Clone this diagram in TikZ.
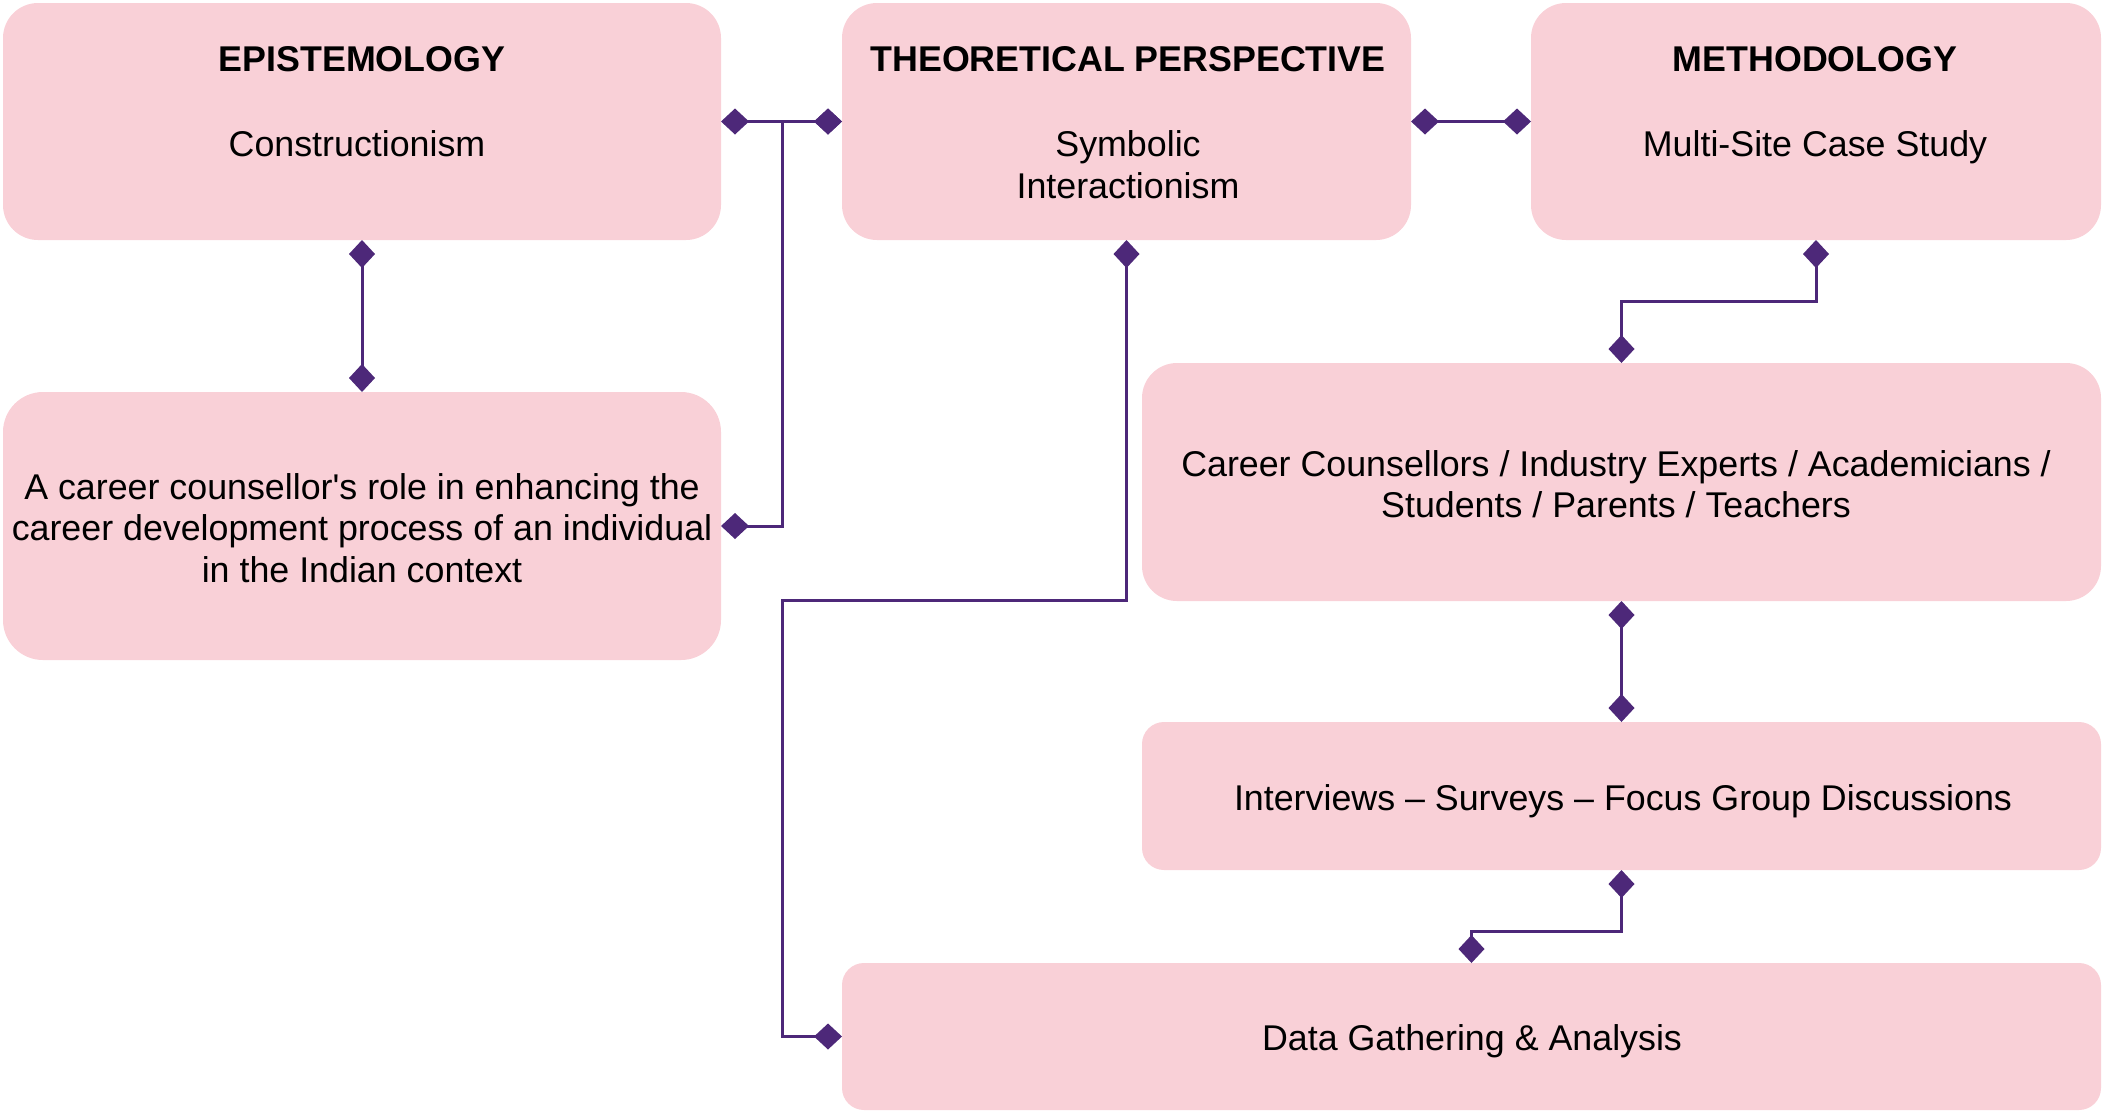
\documentclass[tikz,border=0pt]{standalone}
\usepackage{fontspec}
\setmainfont{Liberation Sans}[Ligatures=TeXOff]
\usetikzlibrary{arrows.meta}
\definecolor{boxpink}{HTML}{F9D0D7}
\definecolor{linkpurple}{HTML}{4D2879}
\begin{document}
\begin{tikzpicture}[x=0.5pt,y=-0.5pt,
  box/.style={fill=boxpink, draw=none, inner sep=0pt, outer sep=0pt},
  ttl/.style={font=\fontsize{17.9}{20.8}\selectfont\bfseries, inner sep=0pt, anchor=base},
  txt/.style={font=\fontsize{17.9}{20.8}\selectfont, align=center, inner sep=0pt},
  dmd/.tip={Diamond[length=14pt,width=13pt,fill=linkpurple]},
  link/.style={draw=linkpurple, line width=1.5pt, dmd-dmd}
]
\useasboundingbox (0,0) rectangle (2106,1116);

% boxes
\node[box, rounded corners=17.5pt, minimum width=359pt, minimum height=118.5pt] (epi) at (362,121.5) {};
\node[box, rounded corners=17.5pt, minimum width=284.5pt, minimum height=118.5pt] (theo) at (1126.5,121.5) {};
\node[box, rounded corners=17.5pt, minimum width=285pt, minimum height=118.5pt] (meth) at (1816,121.5) {};
\node[box, rounded corners=20pt, minimum width=359pt, minimum height=134pt] (role) at (362,526) {};
\node[box, rounded corners=17.5pt, minimum width=479.5pt, minimum height=119pt] (ppl) at (1621.5,482) {};
\node[box, rounded corners=11pt, minimum width=479.5pt, minimum height=74pt] (intv) at (1621.5,796) {};
\node[box, rounded corners=11pt, minimum width=629.5pt, minimum height=73.5pt] (data) at (1471.5,1036.5) {};

% texts
\node[ttl] (epiT) at (362,71) {EPISTEMOLOGY};
\node[txt, anchor=base] (epiB) at (357,156) {Constructionism};
\node[ttl] (theoT) at (1128,71) {THEORETICAL PERSPECTIVE};
\node[txt] (theoB) at (1128,164.5) {Symbolic\\Interactionism};
\node[ttl] (methT) at (1815,71) {METHODOLOGY};
\node[txt, anchor=base] (methB) at (1815,156) {Multi-Site Case Study};
\node[txt] (roleB) at (362,528) {A career counsellor's role in enhancing the\\career development process of an individual\\in the Indian context};
\node[txt] (pplB) at (1616,484) {Career Counsellors / Industry Experts / Academicians /\\Students / Parents / Teachers};
\node[txt] (intvB) at (1623,801) {Interviews – Surveys – Focus Group Discussions};
\node[txt] (dataB) at (1472,1041) {Data Gathering \& Analysis};

% connectors
\draw[link] (epi.east) -- (theo.west);
\draw[link] (theo.east) -- (meth.west);
\draw[link] (epi.south) -- (role.north);
\draw[link] (theo.west) -- (782,121.5) |- (role.east);
\draw[link] (theo.south) |- (782,600) |- (data.west);
\draw[link] (meth.south) -- ++(0,61) -| (ppl.north);
\draw[link] (ppl.south) -- (intv.north);
\draw[link] (intv.south) -- ++(0,61) -| (data.north);
\end{tikzpicture}
\end{document}
